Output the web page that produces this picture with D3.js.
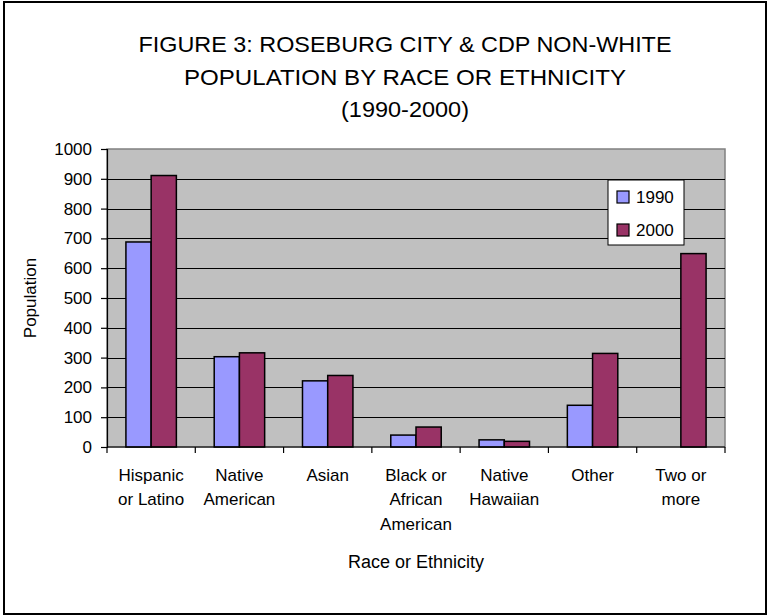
<!DOCTYPE html>
<html>
<head>
<meta charset="utf-8">
<style>
  body {
    margin: 0;
    background: #fff;
  }
  svg text {
    font-family: "Liberation Sans", Arial, sans-serif;
    fill: #000;
  }
</style>
<script type="text/javascript" src="https://d3js.org/d3.v7.min.js"></script>
</head>
<body>
<svg id="chart"></svg>
<script type="text/javascript">
let width = 768,
    height = 616

let categories = ['Hispanic or Latino', 'Native American', 'Asian', 'Black or African American',
                  'Native Hawaiian', 'Other', 'Two or more']
let categoryLines = [['Hispanic', 'or Latino'], ['Native', 'American'], ['Asian'],
                     ['Black or', 'African', 'American'], ['Native', 'Hawaiian'], ['Other'], ['Two or', 'more']]
let series = ['1990', '2000']
let values1990 = [688, 303, 222, 40, 24, 140, 0]
let values2000 = [911, 316, 240, 67, 19, 314, 649]
let yTicks = [0, 100, 200, 300, 400, 500, 600, 700, 800, 900, 1000]
let titleLines = ['FIGURE 3: ROSEBURG CITY & CDP NON-WHITE', 'POPULATION BY RACE OR ETHNICITY', '(1990-2000)']

let colors = { '1990': '#9999FF', '2000': '#993366' }

let plot = { left: 107, right: 725, top: 149, bottom: 447 }

let svg = d3.select('#chart')
    .attr('width', width)
    .attr('height', height)

// outer chart border
svg.append('rect')
    .attr('x', 4).attr('y', 2)
    .attr('width', 762).attr('height', 612)
    .attr('fill', '#fff')
    .attr('stroke', '#000')
    .attr('stroke-width', 2)

// title
let titleY = [52, 85, 117]
let titleLen = [533, 442, 128]
titleLines.forEach(function(t, i) {
  svg.append('text')
      .attr('x', 405)
      .attr('y', titleY[i])
      .attr('text-anchor', 'middle')
      .attr('font-size', 22)
      .attr('textLength', titleLen[i])
      .attr('lengthAdjust', 'spacingAndGlyphs')
      .text(t)
})

let x = d3.scaleBand()
    .domain(categories)
    .range([plot.left, plot.right])
    .paddingInner(0)
    .paddingOuter(0)

let xSub = d3.scaleBand()
    .domain(series)
    .range([0, x.bandwidth()])
    .paddingInner(0)
    .paddingOuter(0.75)

let y = d3.scaleLinear()
    .domain([0, 1000])
    .range([plot.bottom, plot.top])

// plot area
svg.append('rect')
    .attr('x', plot.left).attr('y', plot.top)
    .attr('width', plot.right - plot.left)
    .attr('height', plot.bottom - plot.top)
    .attr('fill', '#C0C0C0')
    .attr('stroke', '#808080')
    .attr('stroke-width', 1.5)

// gridlines
svg.append('g')
    .selectAll('line')
    .data(yTicks.filter(d => d > 0 && d < 1000))
    .enter()
    .append('line')
    .attr('x1', plot.left).attr('x2', plot.right)
    .attr('y1', d => Math.round(y(d)) + 0.5)
    .attr('y2', d => Math.round(y(d)) + 0.5)
    .attr('stroke', '#000')
    .attr('stroke-width', 1)

// bars
let rows = categories.map(function(c, i) {
  return [{ cat: c, s: '1990', v: values1990[i] }, { cat: c, s: '2000', v: values2000[i] }]
})

svg.append('g')
    .selectAll('g')
    .data(rows)
    .enter()
    .append('g')
    .attr('transform', d => 'translate(' + x(d[0].cat) + ',0)')
    .selectAll('rect')
    .data(d => d.filter(e => e.v > 0))
    .enter()
    .append('rect')
    .attr('x', d => xSub(d.s))
    .attr('y', d => y(d.v))
    .attr('width', xSub.bandwidth())
    .attr('height', d => y(0) - y(d.v))
    .attr('fill', d => colors[d.s])
    .attr('stroke', '#000')
    .attr('stroke-width', 1.5)

// y axis
let yAxis = d3.axisLeft(y)
    .tickValues(yTicks)
    .tickFormat(d3.format('d'))
    .tickSize(6)
    .tickPadding(9)

let gy = svg.append('g')
    .attr('transform', 'translate(' + plot.left + ',0)')
    .call(yAxis)
gy.selectAll('text')
    .attr('font-size', 17)
    .style('font-family', '"Liberation Sans", Arial, sans-serif')
gy.selectAll('line, path').attr('stroke', '#000').attr('stroke-width', 1.2)

// x axis (ticks at category boundaries)
let bounds = categories.map(c => x(c)).concat([plot.right])
let gx = svg.append('g')
gx.append('line')
    .attr('x1', plot.left).attr('x2', plot.right)
    .attr('y1', plot.bottom).attr('y2', plot.bottom)
    .attr('stroke', '#000').attr('stroke-width', 1.2)
gx.selectAll('line.tick')
    .data(bounds)
    .enter()
    .append('line')
    .attr('class', 'tick')
    .attr('x1', d => d).attr('x2', d => d)
    .attr('y1', plot.bottom).attr('y2', plot.bottom + 6)
    .attr('stroke', '#000').attr('stroke-width', 1.2)

// category labels
let lineY = [481, 505, 530]
gx.selectAll('text')
    .data(categories)
    .enter()
    .append('text')
    .attr('text-anchor', 'middle')
    .attr('font-size', 17)
    .each(function(c, i) {
      let t = d3.select(this)
      categoryLines[i].forEach(function(line, j) {
        t.append('tspan')
            .attr('x', x(c) + x.bandwidth() / 2)
            .attr('y', lineY[j])
            .text(line)
      })
    })

// axis titles
svg.append('text')
    .attr('x', (plot.left + plot.right) / 2)
    .attr('y', 568)
    .attr('text-anchor', 'middle')
    .attr('font-size', 18)
    .text('Race or Ethnicity')

svg.append('text')
    .attr('transform', 'translate(36,298) rotate(-90)')
    .attr('text-anchor', 'middle')
    .attr('font-size', 17)
    .text('Population')

// legend
let legend = svg.append('g').attr('transform', 'translate(608,180)')
legend.append('rect')
    .attr('width', 76).attr('height', 65)
    .attr('fill', '#fff')
    .attr('stroke', '#000')
    .attr('stroke-width', 1)

let legendItems = legend.selectAll('g')
    .data(series)
    .enter()
    .append('g')
    .attr('transform', (d, i) => 'translate(0,' + (17 + i * 33) + ')')

legendItems.append('rect')
    .attr('x', 9).attr('y', -6)
    .attr('width', 12).attr('height', 12)
    .attr('fill', d => colors[d])
    .attr('stroke', '#000')
    .attr('stroke-width', 1.2)

legendItems.append('text')
    .attr('x', 28)
    .attr('y', 6)
    .attr('font-size', 17)
    .text(d => d)
</script>
</body>
</html>
